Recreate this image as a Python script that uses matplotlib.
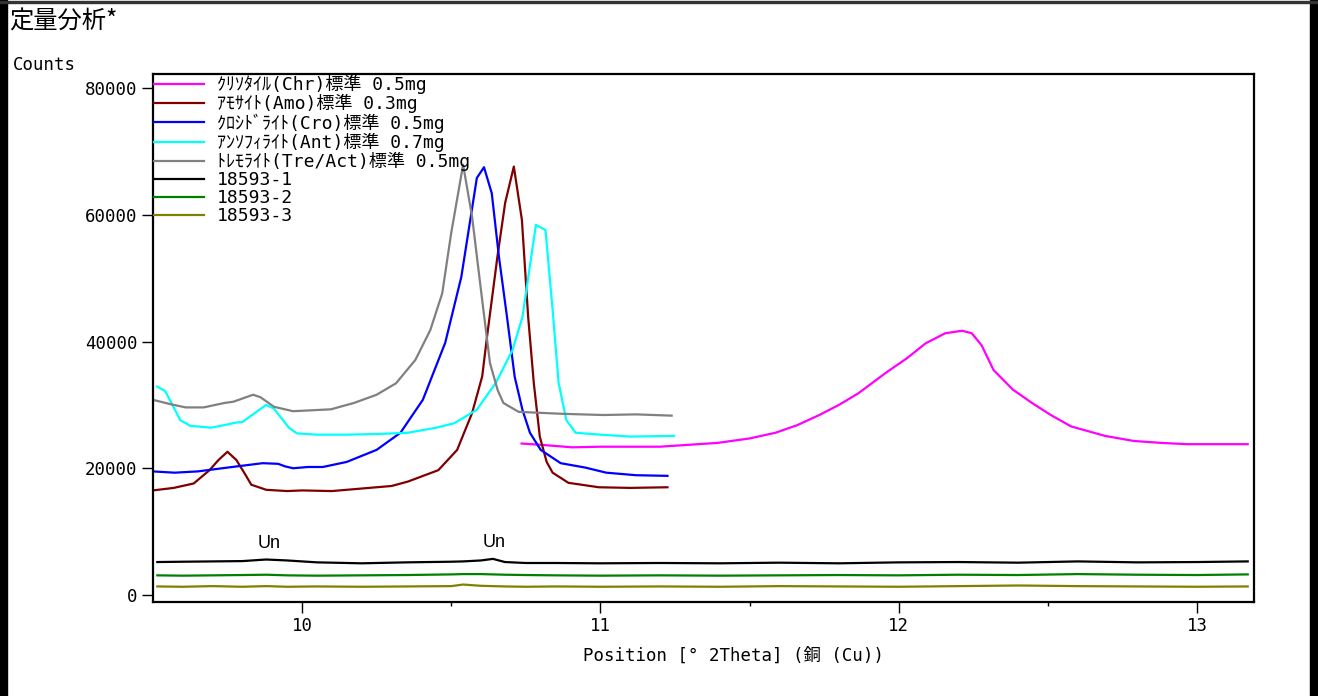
import matplotlib
matplotlib.use("Agg")
import matplotlib.pyplot as plt
from matplotlib.patches import Rectangle
from matplotlib.ticker import MultipleLocator

plt.rcParams['font.family'] = ['DejaVu Sans Mono', 'Noto Sans CJK JP']

# --- data ---
labels = [
    "ｸﾘｿﾀｲﾙ(Chr)標準 0.5mg",
    "ｱﾓｻｲﾄ(Amo)標準 0.3mg",
    "ｸﾛｼﾄﾞﾗｲﾄ(Cro)標準 0.5mg",
    "ｱﾝｿﾌｨﾗｲﾄ(Ant)標準 0.7mg",
    "ﾄﾚﾓﾗｲﾄ(Tre/Act)標準 0.5mg",
    "18593-1",
    "18593-2",
    "18593-3",
]
colors = ["#ff00ff", "#800000", "#0000ff", "#00ffff", "#808080",
          "#000000", "#008000", "#808000"]

chr_x = [10.736, 10.80, 10.906, 11.0, 11.2, 11.393, 11.50, 11.587, 11.66, 11.734,
         11.80, 11.864, 11.961, 12.026, 12.09, 12.156, 12.213, 12.245, 12.278,
         12.318, 12.383, 12.447, 12.51, 12.578, 12.692, 12.789, 12.88, 12.966, 13.17]
chr_y = [23900, 23700, 23300, 23400, 23400, 24000, 24700, 25600, 26800, 28400,
         30000, 31800, 35200, 37300, 39700, 41300, 41700, 41300, 39400,
         35500, 32400, 30300, 28400, 26600, 25100, 24300, 24000, 23800, 23800]

amo_x = [9.50, 9.57, 9.637, 9.69, 9.72, 9.75, 9.78, 9.81, 9.83, 9.88, 9.95, 10.00,
         10.10, 10.20, 10.30, 10.355, 10.457, 10.52, 10.57, 10.604, 10.62, 10.655,
         10.681, 10.71, 10.737, 10.758, 10.777, 10.797, 10.82, 10.84, 10.893,
         10.995, 11.10, 11.225]
amo_y = [16500, 16900, 17600, 19700, 21300, 22600, 21300, 19000, 17400, 16600,
         16400, 16500, 16400, 16800, 17200, 17900, 19700, 22900, 28700, 34500,
         40700, 53400, 61900, 67600, 59200, 43900, 33400, 25000, 21000, 19300,
         17700, 17000, 16900, 17000]

cro_x = [9.50, 9.573, 9.65, 9.766, 9.868, 9.92, 9.943, 9.97, 10.02, 10.07, 10.15,
         10.25, 10.33, 10.405, 10.48, 10.534, 10.586, 10.61, 10.636, 10.66,
         10.687, 10.713, 10.739, 10.764, 10.80, 10.867, 10.95, 11.02, 11.12, 11.225]
cro_y = [19500, 19300, 19500, 20200, 20800, 20700, 20300, 20000, 20200, 20200,
         21000, 22900, 25600, 30800, 39800, 50200, 65800, 67500, 63400, 53400,
         43900, 34400, 29200, 25600, 22900, 20800, 20100, 19300, 18900, 18800]

ant_x = [9.514, 9.541, 9.592, 9.625, 9.695, 9.75, 9.778, 9.80, 9.88, 9.906, 9.956,
         9.983, 10.05, 10.15, 10.25, 10.355, 10.45, 10.51, 10.585, 10.65, 10.706,
         10.739, 10.784, 10.80, 10.816, 10.84, 10.86, 10.886, 10.917, 11.0, 11.1,
         11.247]
ant_y = [32900, 32200, 27600, 26700, 26400, 26900, 27200, 27300, 30000, 29400,
         26400, 25500, 25300, 25300, 25400, 25600, 26400, 27100, 29200, 33500,
         38700, 43900, 58400, 58000, 57600, 45000, 33500, 27600, 25600, 25300,
         25000, 25100]

tre_x = [9.50, 9.56, 9.61, 9.67, 9.74, 9.77, 9.836, 9.861, 9.906, 9.97, 10.097,
         10.174, 10.25, 10.315, 10.38, 10.43, 10.47, 10.50, 10.54, 10.57, 10.604,
         10.63, 10.656, 10.675, 10.726, 10.867, 11.008, 11.12, 11.239]
tre_y = [30800, 30100, 29600, 29600, 30300, 30500, 31600, 31200, 29700, 29000,
         29300, 30300, 31600, 33400, 37100, 41800, 47600, 57100, 67900, 59700,
         46500, 36600, 32300, 30300, 28900, 28600, 28400, 28500, 28300]

base_x = [9.515, 9.60, 9.70, 9.80, 9.88, 9.95, 10.05, 10.20, 10.35, 10.50, 10.54,
          10.60, 10.64, 10.68, 10.75, 10.85, 11.00, 11.20, 11.40, 11.60, 11.80,
          12.00, 12.20, 12.40, 12.60, 12.80, 13.00, 13.17]
s1_y = [5200, 5250, 5300, 5350, 5600, 5450, 5150, 5000, 5150, 5250, 5300,
        5450, 5700, 5200, 5050, 5050, 5000, 5050, 5000, 5100, 5000,
        5150, 5200, 5100, 5300, 5150, 5200, 5300]
s2_y = [3100, 3050, 3100, 3150, 3200, 3100, 3050, 3100, 3150, 3250, 3300,
        3300, 3250, 3200, 3150, 3100, 3050, 3100, 3050, 3100, 3150,
        3100, 3200, 3150, 3300, 3200, 3150, 3250]
s3_y = [1350, 1300, 1400, 1300, 1400, 1300, 1350, 1300, 1350, 1400, 1650,
        1450, 1400, 1350, 1300, 1350, 1300, 1350, 1300, 1400, 1350,
        1300, 1400, 1500, 1400, 1350, 1300, 1350]

un_x = [9.89, 10.645]
un_y = [8150, 8300]

xticks = [10, 11, 12, 13]
yticks = [0, 20000, 40000, 60000, 80000]

# --- figure ---
fig = plt.figure(figsize=(13.18, 6.96), dpi=100)
ax = fig.add_axes([153 / 1318, 1 - 602 / 696, 1101 / 1318, 528 / 696])

series = [(chr_x, chr_y), (amo_x, amo_y), (cro_x, cro_y), (ant_x, ant_y),
          (tre_x, tre_y), (base_x, s1_y), (base_x, s2_y), (base_x, s3_y)]
for (xs, ys), lab, c in zip(series, labels, colors):
    ax.plot(xs, ys, color=c, lw=1.6, label=lab)

for x, y in zip(un_x, un_y):
    ax.text(x, y, "Un", ha="center", va="center", fontsize=13,
            family=["Liberation Sans", "DejaVu Sans"])

ax.set_xlim(9.5005, 13.191)
ax.set_ylim(-1105, 82210)
ax.set_xticks(xticks)
ax.set_yticks(yticks)
ax.xaxis.set_minor_locator(MultipleLocator(0.5))
ax.tick_params(axis="both", which="major", direction="out", length=8,
               width=1, labelsize=12.5, pad=3)
ax.tick_params(axis="x", which="minor", direction="out", length=3, width=1)
for sp in ax.spines.values():
    sp.set_linewidth(1.6)

ax.set_xlabel("Position [° 2Theta] (銅 (Cu))", fontsize=12.5, x=0.527, labelpad=8)

leg = ax.legend(loc="upper left", frameon=False, fontsize=13,
                handlelength=2.8, handletextpad=0.7, labelspacing=0.0,
                borderaxespad=0.0, borderpad=0.05)

fig.text(13 / 1318, 1 - 65 / 696, "Counts", fontsize=12.5, va="center", ha="left")
fig.text(9 / 1318, 1 - 22 / 696, "定量分析*", fontsize=17.5, va="center", ha="left",
         family=["Noto Sans CJK JP", "DejaVu Sans"])

# page frame
fig.patches.append(Rectangle((0, 0), 7 / 1318, 1, transform=fig.transFigure,
                             color="black", zorder=5))
fig.patches.append(Rectangle((1310 / 1318, 0), 8 / 1318, 1, transform=fig.transFigure,
                             color="black", zorder=5))
fig.patches.append(Rectangle((0, 1 - 3 / 696), 1, 1.5 / 696, transform=fig.transFigure,
                             color="#333333", zorder=5))

fig.savefig("out.png", dpi=100)
